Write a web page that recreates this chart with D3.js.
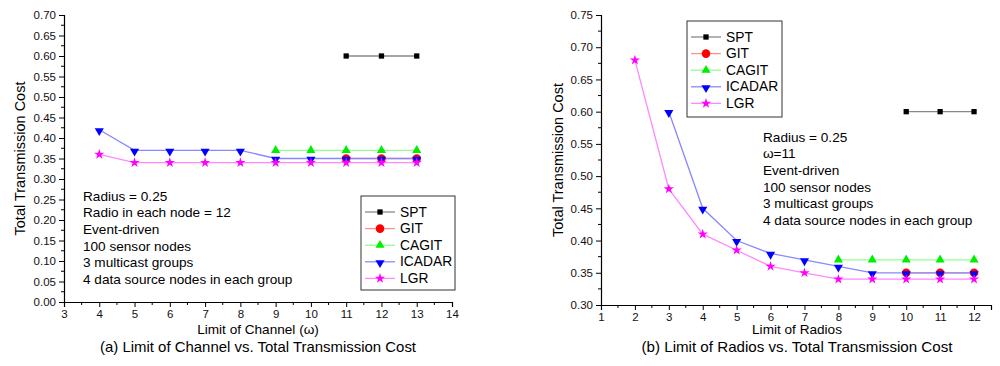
<!DOCTYPE html>
<html><head><meta charset="utf-8">
<script src="https://cdnjs.cloudflare.com/ajax/libs/d3/7.8.5/d3.min.js"></script>
<style>body{margin:0;background:#fff}svg{display:block;font-family:"Liberation Sans",Arial,sans-serif}</style>
</head><body><svg id="c" width="1000" height="366"></svg>
<script>
// Panel (a)
const aX = {SPT:[11,12,13], GIT:[11,12,13], CAGIT:[9,10,11,12,13], ICADAR:[4,5,6,7,8,9,10,11,12,13], LGR:[4,5,6,7,8,9,10,11,12,13]};
const aSPT = [0.60,0.60,0.60];
const aGIT = [0.35,0.35,0.35];
const aCAGIT = [0.37,0.37,0.37,0.37,0.37];
const aICADAR = [0.42,0.37,0.37,0.37,0.37,0.35,0.35,0.35,0.35,0.35];
const aLGR = [0.36,0.34,0.34,0.34,0.34,0.34,0.34,0.34,0.34,0.34];
const aXTicks = [3,4,5,6,7,8,9,10,11,12,13,14];
const aYTicks = [0,0.05,0.10,0.15,0.20,0.25,0.30,0.35,0.40,0.45,0.50,0.55,0.60,0.65,0.70];
const aNotes = ["Radius = 0.25","Radio in each node = 12","Event-driven","100 sensor nodes","3 multicast groups","4 data source nodes in each group"];
// Panel (b)
const bX = {SPT:[10,11,12], GIT:[10,11,12], CAGIT:[8,9,10,11,12], ICADAR:[3,4,5,6,7,8,9,10,11,12], LGR:[2,3,4,5,6,7,8,9,10,11,12]};
const bSPT = [0.60,0.60,0.60];
const bGIT = [0.35,0.35,0.35];
const bCAGIT = [0.37,0.37,0.37,0.37,0.37];
const bICADAR = [0.60,0.45,0.40,0.38,0.37,0.36,0.35,0.35,0.35,0.35];
const bLGR = [0.68,0.48,0.41,0.385,0.36,0.35,0.34,0.34,0.34,0.34,0.34];
const bXTicks = [1,2,3,4,5,6,7,8,9,10,11,12];
const bYTicks = [0.30,0.35,0.40,0.45,0.50,0.55,0.60,0.65,0.70,0.75];
const bNotes = ["Radius = 0.25","\u03c9=11","Event-driven","100 sensor nodes","3 multicast groups","4 data source nodes in each group"];
const seriesNames = ["SPT","GIT","CAGIT","ICADAR","LGR"];

const style = {
  SPT:{m:"#000000", l:"#888888", sym:d3.symbolSquare, size:28},
  GIT:{m:"#ff0000", l:"#ff9090", sym:d3.symbolCircle, size:58},
  CAGIT:{m:"#00ee00", l:"#90ff90", sym:d3.symbolTriangle, size:36},
  ICADAR:{m:"#0000ff", l:"#8888ff", sym:d3.symbolTriangle, size:36, rot:180},
  LGR:{m:"#ff00ff", l:"#ff88ff", sym:d3.symbolStar, size:32}
};

const svg = d3.select("#c");

function panel(o){
  const g = svg.append("g");
  const x = d3.scaleLinear().domain(o.xd).range(o.xr);
  const y = d3.scaleLinear().domain(o.yd).range(o.yr);
  const yAx = d3.axisLeft(y).tickValues(o.yTicks).tickFormat(d3.format(".2f")).tickSize(5).tickPadding(3);
  const yg = g.append("g").attr("transform",`translate(${o.xr[0]},0)`).call(yAx);
  const minorY = d3.range(o.yd[0]+0.025, o.yd[1], 0.05);
  yg.selectAll(".mn").data(minorY).join("line").attr("class","mn")
    .attr("x1",0).attr("x2",-3).attr("y1",d=>y(d)).attr("y2",d=>y(d)).attr("stroke","#000");
  const xAx = d3.axisBottom(x).tickValues(o.xTicks).tickFormat(d3.format("d")).tickSize(5).tickPadding(3);
  const xg = g.append("g").attr("transform",`translate(0,${o.yr[0]})`).call(xAx);
  const minorX = d3.range(o.xd[0]+0.5, o.xd[1], 1);
  xg.selectAll(".mn").data(minorX).join("line").attr("class","mn")
    .attr("y1",0).attr("y2",3).attr("x1",d=>x(d)).attr("x2",d=>x(d)).attr("stroke","#000");
  g.selectAll(".domain").attr("stroke","#000").attr("stroke-width",1.2);
  g.selectAll(".tick text").attr("font-size",11.5).attr("fill","#111").attr("font-family","Liberation Sans, Arial, sans-serif");
  g.append("text").attr("transform",`translate(${o.ylx},${(o.yr[0]+o.yr[1])/2}) rotate(-90)`)
    .attr("text-anchor","middle").attr("dominant-baseline","central").attr("font-size",14.5).text("Total Transmission Cost");
  g.append("text").attr("x",o.xlc).attr("y",329).attr("text-anchor","middle").attr("dominant-baseline","central").attr("font-size",13.6).text(o.xlabel);
  g.append("text").attr("x",o.xlc).attr("y",346).attr("text-anchor","middle").attr("dominant-baseline","central").attr("font-size",15)
    .attr("textLength",o.capW).attr("lengthAdjust","spacingAndGlyphs").text(o.caption);
  const line = d3.line().x(d=>x(d[0])).y(d=>y(d[1]));
  seriesNames.forEach(n=>{
    const pts = o.xs[n].map((v,i)=>[v,o.vals[n][i]]);
    g.append("path").datum(pts).attr("d",line).attr("fill","none").attr("stroke",style[n].l).attr("stroke-width",1.3);
  });
  seriesNames.forEach(n=>{
    const s = style[n];
    const pts = o.xs[n].map((v,i)=>[v,o.vals[n][i]]);
    g.selectAll(null).data(pts).join("path")
      .attr("d",d3.symbol().type(s.sym).size(s.size))
      .attr("transform",d=>`translate(${x(d[0])},${y(d[1])+(s.rot?1:0)})${s.rot?" rotate(180)":""}`)
      .attr("fill",s.m);
  });
  g.selectAll(null).data(o.notes).join("text").attr("x",o.nx).attr("y",(d,i)=>o.ny+i*16.7)
    .attr("dominant-baseline","central").attr("font-size",13.6).text(d=>d);
  const L = o.leg;
  g.append("rect").attr("x",L.x).attr("y",L.y).attr("width",L.w).attr("height",L.h).attr("fill","#fff").attr("stroke","#333").attr("stroke-width",1);
  seriesNames.forEach((n,i)=>{
    const s = style[n], yy = L.y+16+i*16.6;
    g.append("line").attr("x1",L.x+4).attr("x2",L.x+34).attr("y1",yy).attr("y2",yy).attr("stroke",s.l).attr("stroke-width",1.3);
    g.append("path").attr("d",d3.symbol().type(s.sym).size(s.size))
      .attr("transform",`translate(${L.x+19},${yy+(s.rot?1:0)})${s.rot?" rotate(180)":""}`).attr("fill",s.m);
    g.append("text").attr("x",L.x+39).attr("y",yy).attr("dominant-baseline","central").attr("font-size",13.8).text(n);
  });
}

panel({xd:[3,14], xr:[64,452], yd:[0,0.70], yr:[302,15], xTicks:aXTicks, yTicks:aYTicks,
  xs:aX, vals:{SPT:aSPT,GIT:aGIT,CAGIT:aCAGIT,ICADAR:aICADAR,LGR:aLGR},
  ylx:20, xlc:258, capW:316, xlabel:"Limit of Channel (\u03c9)", caption:"(a) Limit of Channel vs. Total Transmission Cost",
  notes:aNotes, nx:83, ny:196, leg:{x:361,y:196,w:94,h:94}});
panel({xd:[1,12.5], xr:[601,991], yd:[0.30,0.75], yr:[305,15], xTicks:bXTicks, yTicks:bYTicks,
  xs:bX, vals:{SPT:bSPT,GIT:bGIT,CAGIT:bCAGIT,ICADAR:bICADAR,LGR:bLGR},
  ylx:558, xlc:797, capW:311, xlabel:"Limit of Radios", caption:"(b) Limit of Radios vs. Total Transmission Cost",
  notes:bNotes, nx:763, ny:137, leg:{x:687,y:21,w:95,h:96}});
</script></body></html>
